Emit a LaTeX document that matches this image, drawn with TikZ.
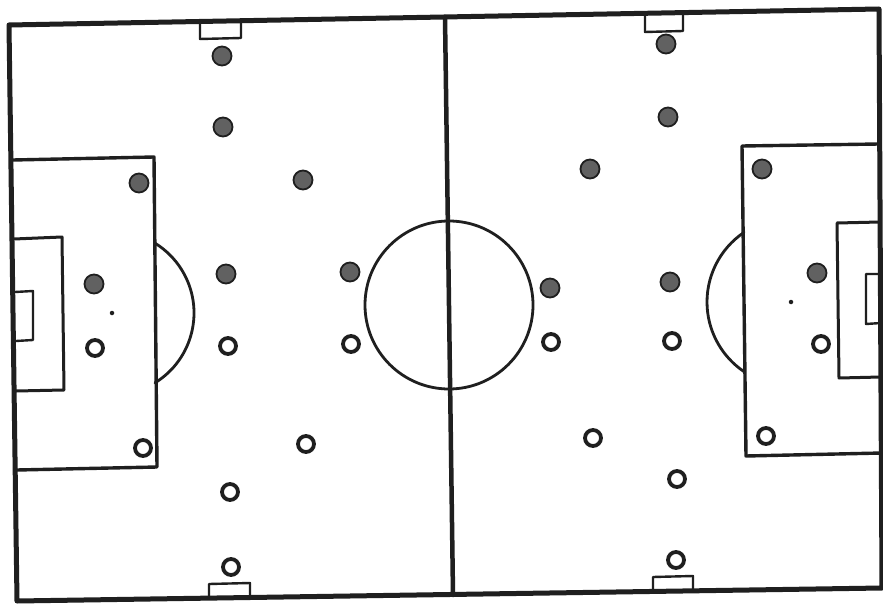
\documentclass[tikz,border=0pt]{standalone}
\begin{document}
\begin{tikzpicture}[x=1pt,y=-1pt,
  pline/.style={draw=black!88,line width=#1,line join=round,line cap=round},
  pline/.default=3pt,
  fplayer/.style={circle,fill=black!62,draw=black!88,line width=1.8pt,minimum size=19pt,inner sep=0pt},
  oplayer/.style={circle,fill=white,draw=black!88,line width=3.8pt,minimum size=16pt,inner sep=0pt},
  spot/.style={circle,fill=black!88,minimum size=4.5pt,inner sep=0pt}]
\fill[white] (0,0) rectangle (883,604);
\useasboundingbox (0,0) rectangle (883,604);
% outer boundary
\coordinate (tl) at (9,25);
\coordinate (tr) at (879,9);
\coordinate (br) at (882,588);
\coordinate (bl) at (17,601);
\draw[pline=5pt] (tl) -- (tr) -- (br) -- (bl) -- cycle;
% halfway line
\coordinate (ht) at (445,17);
\coordinate (hb) at (453,595);
\draw[pline=4.5pt] (ht) -- (hb);
% centre circle
\coordinate (cc) at (449,305);
\draw[pline=2.8pt] (cc) circle[radius=84pt];
% left penalty area
\coordinate (lp1) at (13,160);
\coordinate (lp2) at (154,157);
\coordinate (lp3) at (157,467);
\coordinate (lp4) at (17,470);
\draw[pline=3.4pt] (lp1) -- (lp2) -- (lp3) -- (lp4);
% left goal area
\coordinate (lg1) at (14,239);
\coordinate (lg2) at (62,237);
\coordinate (lg3) at (64,390);
\coordinate (lg4) at (16,391);
\draw[pline=3pt] (lg1) -- (lg2) -- (lg3) -- (lg4);
% left goal
\coordinate (lgo1) at (15,292);
\coordinate (lgo2) at (33,291);
\coordinate (lgo3) at (33,340);
\coordinate (lgo4) at (16,341);
\draw[pline=2.4pt] (lgo1) -- (lgo2) -- (lgo3) -- (lgo4);
% left penalty spot and arc
\node[spot] (lspot) at (112,313) {};
\draw[pline=2.8pt] (lspot.center) ++(-58.4:82pt) arc[start angle=-58.4,end angle=58.4,radius=82pt];
% right penalty area
\coordinate (rp1) at (879,144);
\coordinate (rp2) at (742,146);
\coordinate (rp3) at (746,456);
\coordinate (rp4) at (882,453);
\draw[pline=3.4pt] (rp1) -- (rp2) -- (rp3) -- (rp4);
% right goal area
\coordinate (rg1) at (880,222);
\coordinate (rg2) at (837,223);
\coordinate (rg3) at (839,378);
\coordinate (rg4) at (881,377);
\draw[pline=3pt] (rg1) -- (rg2) -- (rg3) -- (rg4);
% right goal
\coordinate (rgo1) at (880,274);
\coordinate (rgo2) at (866,274);
\coordinate (rgo3) at (866,324);
\coordinate (rgo4) at (881,323);
\draw[pline=2.4pt] (rgo1) -- (rgo2) -- (rgo3) -- (rgo4);
% right penalty spot and arc
\node[spot] (rspot) at (791,302) {};
\draw[pline=2.8pt] (rspot.center) ++(124:84pt) arc[start angle=124,end angle=236,radius=84pt];
% goals on the touch lines
\coordinate (ga1) at (200,23);
\coordinate (ga2) at (200,39);
\coordinate (ga3) at (241,38);
\coordinate (ga4) at (241,22);
\draw[pline=2.4pt] (ga1) -- (ga2) -- (ga3) -- (ga4);
\coordinate (gb1) at (209,597);
\coordinate (gb2) at (209,584);
\coordinate (gb3) at (250,583);
\coordinate (gb4) at (250,596);
\draw[pline=2.4pt] (gb1) -- (gb2) -- (gb3) -- (gb4);
\coordinate (gc1) at (645,14);
\coordinate (gc2) at (645,32);
\coordinate (gc3) at (683,31);
\coordinate (gc4) at (683,13);
\draw[pline=2.4pt] (gc1) -- (gc2) -- (gc3) -- (gc4);
\coordinate (gd1) at (653,591);
\coordinate (gd2) at (653,577);
\coordinate (gd3) at (693,576);
\coordinate (gd4) at (693,590);
\draw[pline=2.4pt] (gd1) -- (gd2) -- (gd3) -- (gd4);
% players: filled
\node[fplayer] (f1) at (222,56) {};
\node[fplayer] (f2) at (223,127) {};
\node[fplayer] (f3) at (139,183) {};
\node[fplayer] (f4) at (303,180) {};
\node[fplayer] (f5) at (94,284) {};
\node[fplayer] (f6) at (226,274) {};
\node[fplayer] (f7) at (350,272) {};
\node[fplayer] (f8) at (666,44) {};
\node[fplayer] (f9) at (668,117) {};
\node[fplayer] (f10) at (590,169) {};
\node[fplayer] (f11) at (762,169) {};
\node[fplayer] (f12) at (550,288) {};
\node[fplayer] (f13) at (670,282) {};
\node[fplayer] (f14) at (817,273) {};
% players: open
\node[oplayer] (o1) at (95,348) {};
\node[oplayer] (o2) at (228,346) {};
\node[oplayer] (o3) at (351,344) {};
\node[oplayer] (o4) at (143,448) {};
\node[oplayer] (o5) at (306,444) {};
\node[oplayer] (o6) at (230,492) {};
\node[oplayer] (o7) at (231,567) {};
\node[oplayer] (o8) at (551,342) {};
\node[oplayer] (o9) at (672,341) {};
\node[oplayer] (o10) at (821,344) {};
\node[oplayer] (o11) at (593,438) {};
\node[oplayer] (o12) at (766,436) {};
\node[oplayer] (o13) at (677,479) {};
\node[oplayer] (o14) at (676,560) {};
\end{tikzpicture}
\end{document}
